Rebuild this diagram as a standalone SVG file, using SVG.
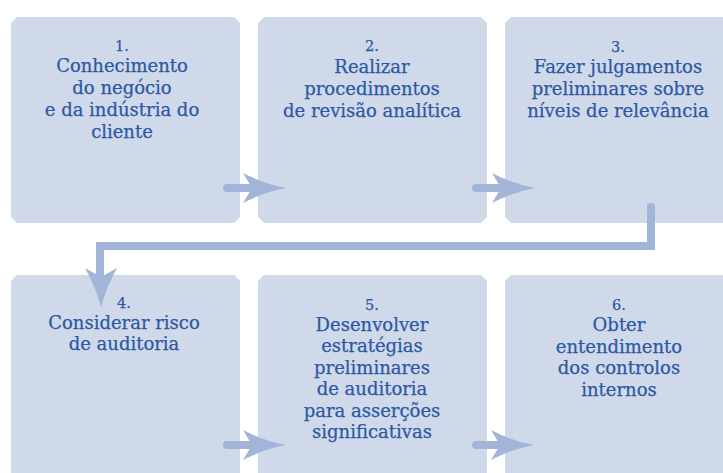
<svg xmlns="http://www.w3.org/2000/svg" width="723" height="473" viewBox="0 0 723 473">
<style>
.box{fill:#cfd9ea}
.t{font-family:"DejaVu Serif","Liberation Serif",serif;font-size:18px;fill:#2c58a3;stroke:#2c58a3;stroke-width:0.25;text-anchor:middle}
.n{font-size:14.5px}
.line{fill:none;stroke:#a2b4d7;stroke-width:8}
.cap{stroke-linecap:round}
.head{fill:#a2b4d7}
</style>
<rect width="723" height="473" fill="#ffffff"/>
<g id="node1">
<polygon class="box" points="17,17 234,17 240,23 240,217 234,223 17,223 11,217 11,23"/>
<text class="t"><tspan class="n" x="122" y="51">1.</tspan><tspan x="122" y="72">Conhecimento</tspan><tspan x="122" y="94">do negócio</tspan><tspan x="122" y="116">e da indústria do</tspan><tspan x="122" y="138">cliente</tspan></text>
</g>
<g id="node2">
<polygon class="box" points="264,17 481,17 487,23 487,217 481,223 264,223 258,217 258,23"/>
<text class="t"><tspan class="n" x="372" y="51">2.</tspan><tspan x="372" y="73">Realizar</tspan><tspan x="372" y="95">procedimentos</tspan><tspan x="372" y="117">de revisão analítica</tspan></text>
</g>
<g id="node3">
<polygon class="box" points="511,17 735,17 735,223 511,223 505,217 505,23"/>
<text class="t"><tspan class="n" x="618" y="52">3.</tspan><tspan x="618" y="73">Fazer julgamentos</tspan><tspan x="618" y="95">preliminares sobre</tspan><tspan x="618" y="117">níveis de relevância</tspan></text>
</g>
<g id="node4">
<polygon class="box" points="17,275 234,275 240,281 240,480 11,480 11,281"/>
<text class="t"><tspan class="n" x="124" y="308">4.</tspan><tspan x="124" y="329">Considerar risco</tspan><tspan x="124" y="350">de auditoria</tspan></text>
</g>
<g id="node5">
<polygon class="box" points="264,275 481,275 487,281 487,480 258,480 258,281"/>
<text class="t"><tspan class="n" x="372" y="310">5.</tspan><tspan x="372" y="331">Desenvolver</tspan><tspan x="372" y="352">estratégias</tspan><tspan x="372" y="374">preliminares</tspan><tspan x="372" y="395">de auditoria</tspan><tspan x="372" y="417">para asserções</tspan><tspan x="372" y="438">significativas</tspan></text>
</g>
<g id="node6">
<polygon class="box" points="511,275 735,275 735,480 505,480 505,281"/>
<text class="t"><tspan class="n" x="619" y="310">6.</tspan><tspan x="619" y="331">Obter</tspan><tspan x="619" y="353">entendimento</tspan><tspan x="619" y="374">dos controlos</tspan><tspan x="619" y="396">internos</tspan></text>
</g>
<g id="connectors">
<line class="line cap" x1="227" y1="188" x2="255" y2="188"/>
<path class="head" d="M243,173 Q264,184 286,188 Q264,192 243,203 L252,188 Z"/>
<line class="line cap" x1="476" y1="188" x2="504" y2="188"/>
<path class="head" d="M492,173 Q513,184 535,188 Q513,192 492,203 L501,188 Z"/>
<line class="line cap" x1="227" y1="445" x2="255" y2="445"/>
<path class="head" d="M243,430 Q264,441 286,445 Q264,449 243,460 L252,445 Z"/>
<line class="line cap" x1="476" y1="445" x2="504" y2="445"/>
<path class="head" d="M491,430 Q512,441 534,445 Q512,449 491,460 L500,445 Z"/>
<path class="line" d="M651,207 L651,246 L100,246 L100,282" stroke-linejoin="miter"/>
<line class="line cap" x1="651" y1="207" x2="651" y2="215"/>
<path class="head" d="M85,268 Q96,288 101,307 Q106,288 117,268 L101,277 Z"/>
</g>
</svg>
